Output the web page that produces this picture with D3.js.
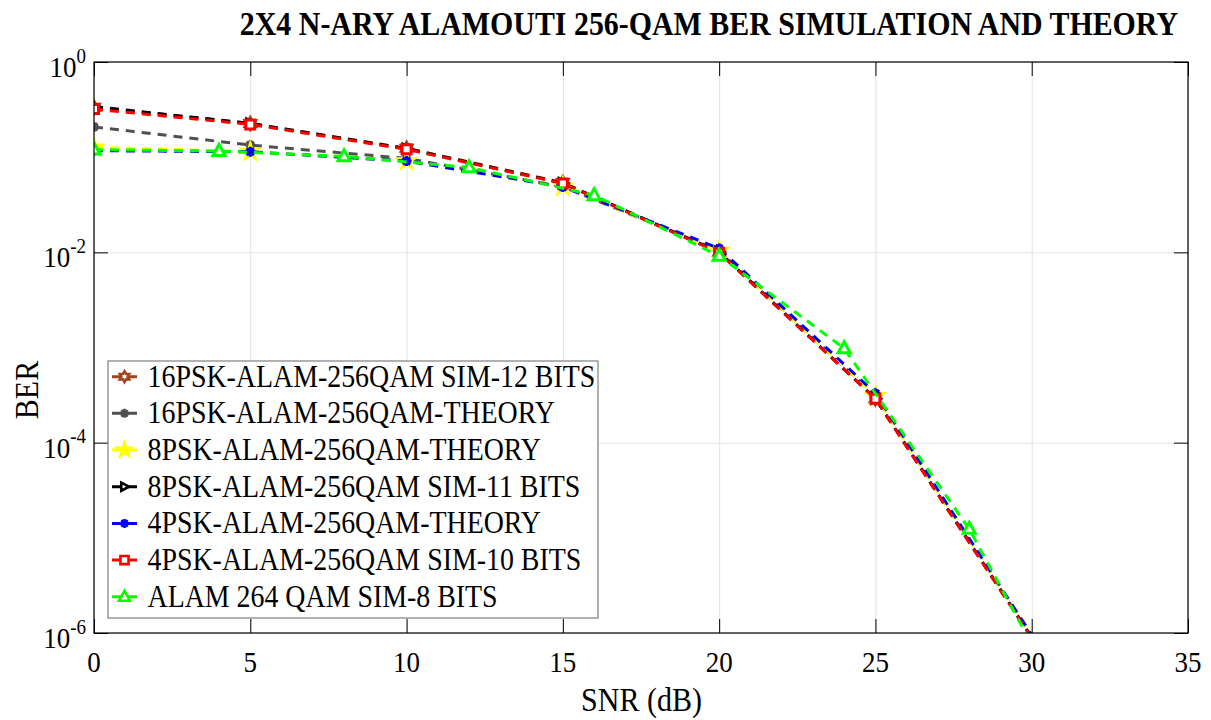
<!DOCTYPE html>
<html>
<head>
<meta charset="utf-8">
<script src="https://cdn.jsdelivr.net/npm/d3@7"></script>
<style>
  html, body { margin: 0; padding: 0; background: #fff; }
  text { font-family: "Liberation Serif", "Times New Roman", serif; fill: #000; }
</style>
</head>
<body>
<svg id="chart" width="1211" height="720"></svg>
<script>
// ---------------- data ----------------
const snr = [0, 5, 10, 15, 20, 25, 30];
const snrAlam = [0, 4, 8, 12, 16, 20, 24, 28, 32];

const sim16 = [0.335, 0.226, 0.124, 0.054, 0.0100, 2.9e-4, 9e-7];
const theory16 = [0.208, 0.134, 0.097, 0.049, 0.0104, 3.1e-4, 9.3e-7];
const theory8 = [0.127, 0.114, 0.091, 0.049, 0.0104, 3.1e-4, 9.3e-7];
const sim8 = [0.34, 0.226, 0.123, 0.0535, 0.0101, 2.9e-4, 9e-7];
const theory4 = [0.117, 0.114, 0.091, 0.0487, 0.0110, 3.3e-4, 9.5e-7];
const sim4 = [0.32, 0.221, 0.121, 0.053, 0.0099, 2.9e-4, 8.8e-7];
const alam = [0.120, 0.116, 0.102, 0.078, 0.0398, 0.0092, 9.8e-4, 1.24e-5, 4.7e-8];

const seriesNames = [
  "16PSK-ALAM-256QAM SIM-12 BITS",
  "16PSK-ALAM-256QAM-THEORY",
  "8PSK-ALAM-256QAM-THEORY",
  "8PSK-ALAM-256QAM SIM-11 BITS",
  "4PSK-ALAM-256QAM-THEORY",
  "4PSK-ALAM-256QAM SIM-10 BITS",
  "ALAM 264 QAM SIM-8 BITS"
];
const xTicks = [0, 5, 10, 15, 20, 25, 30, 35];
const yTicks = [1e-6, 1e-4, 1e-2, 1];
const yTickExp = ["-6", "-4", "-2", "0"];
const titleText = "2X4 N-ARY ALAMOUTI 256-QAM BER SIMULATION AND THEORY";
const xLabel = "SNR (dB)";
const yLabel = "BER";

// ---------------- styles ----------------
const series = [
  { name: seriesNames[0], xs: snr, ys: sim16, color: "#A2461E", marker: "hexagram" },
  { name: seriesNames[1], xs: snr, ys: theory16, color: "#505050", marker: "asterisk" },
  { name: seriesNames[2], xs: snr, ys: theory8, color: "#FFFF00", marker: "pentagram" },
  { name: seriesNames[3], xs: snr, ys: sim8, color: "#000000", marker: "triright" },
  { name: seriesNames[4], xs: snr, ys: theory4, color: "#0000FF", marker: "asterisk" },
  { name: seriesNames[5], xs: snr, ys: sim4, color: "#FF0000", marker: "square" },
  { name: seriesNames[6], xs: snrAlam, ys: alam, color: "#00FF00", marker: "triangle" }
];

const SY = 1.1; // vertical stretch of glyphs seen in the reference
const svg = d3.select("#chart");
const L = 94, R = 1188, T = 62, B = 633;
const x = d3.scaleLinear().domain([0, 35]).range([L, R]);
const y = d3.scaleLog().domain([1e-6, 1]).range([B, T]);

function stretchedText(parent, tx, ty, size, anchor, str, extra) {
  const t = parent.append("text")
    .attr("transform", `translate(${tx},${ty}) scale(1,${SY})${extra || ""}`)
    .attr("font-size", size).attr("text-anchor", anchor);
  if (str !== undefined) t.text(str);
  return t;
}

// grid
const grid = svg.append("g");
grid.append("g").attr("transform", `translate(0,${B})`)
  .call(d3.axisBottom(x).tickValues(xTicks).tickSize(-(B - T)).tickFormat(""))
  .call(g => g.select(".domain").remove())
  .call(g => g.selectAll("line").attr("stroke", "#e3e3e3").attr("stroke-width", 1));
grid.append("g").attr("transform", `translate(${L},0)`)
  .call(d3.axisLeft(y).tickValues(yTicks).tickSize(-(R - L)).tickFormat(""))
  .call(g => g.select(".domain").remove())
  .call(g => g.selectAll("line").attr("stroke", "#e3e3e3").attr("stroke-width", 1));

// clip
svg.append("clipPath").attr("id", "plotclip")
  .append("rect").attr("x", L).attr("y", T).attr("width", R - L).attr("height", B - T);

// marker shapes
function markerPath(type, s) {
  const p = d3.path();
  if (type === "square") {
    p.rect(-s / 2, -s / 2, s, s);
  } else if (type === "triangle") {
    p.moveTo(0, -s * 0.6); p.lineTo(s * 0.55, s * 0.4); p.lineTo(-s * 0.55, s * 0.4); p.closePath();
  } else if (type === "triright") {
    p.moveTo(s * 0.55, 0); p.lineTo(-s * 0.4, -s * 0.5); p.lineTo(-s * 0.4, s * 0.5); p.closePath();
  } else if (type === "asterisk") {
    const r = s / 2;
    for (let k = 0; k < 4; k++) {
      const a = k * Math.PI / 4;
      p.moveTo(-r * Math.cos(a), -r * Math.sin(a)); p.lineTo(r * Math.cos(a), r * Math.sin(a));
    }
  } else if (type === "pentagram") {
    const ro = s * 0.6, ri = ro * 0.382;
    for (let k = 0; k < 10; k++) {
      const a = -Math.PI / 2 + k * Math.PI / 5;
      const rr = k % 2 === 0 ? ro : ri;
      if (k === 0) p.moveTo(rr * Math.cos(a), rr * Math.sin(a)); else p.lineTo(rr * Math.cos(a), rr * Math.sin(a));
    }
    p.closePath();
  } else if (type === "hexagram") {
    const ro = s * 0.55, ri = ro * 0.577;
    for (let k = 0; k < 12; k++) {
      const a = -Math.PI / 2 + k * Math.PI / 6;
      const rr = k % 2 === 0 ? ro : ri;
      if (k === 0) p.moveTo(rr * Math.cos(a), rr * Math.sin(a)); else p.lineTo(rr * Math.cos(a), rr * Math.sin(a));
    }
    p.closePath();
  }
  return p.toString();
}
function markerFill(s) {
  if (s.marker === "pentagram") return s.color;
  if (s.marker === "asterisk") return "none";
  return "#fff";
}
const markerSize = { square: 9, triangle: 11, triright: 9, asterisk: 10, pentagram: 13, hexagram: 11 };

// data lines
const plot = svg.append("g").attr("clip-path", "url(#plotclip)");
const line = d3.line().x(d => x(d[0])).y(d => y(d[1]));
series.forEach(s => {
  const pts = s.xs.map((v, i) => [v, s.ys[i]]);
  const g = plot.append("g");
  g.append("path").attr("d", line(pts))
    .attr("fill", "none").attr("stroke", s.color).attr("stroke-width", 3)
    .attr("stroke-dasharray", "9,7");
  g.selectAll("path.m").data(pts.filter(d => d[1] >= 1e-6 && d[0] <= 35)).join("path")
    .attr("class", "m")
    .attr("transform", d => `translate(${x(d[0])},${y(d[1])})`)
    .attr("d", markerPath(s.marker, markerSize[s.marker]))
    .attr("fill", markerFill(s)).attr("stroke", s.color).attr("stroke-width", 3);
});

// axes (inward ticks, box)
const axes = svg.append("g");
axes.append("g").attr("transform", `translate(0,${B})`)
  .call(d3.axisBottom(x).tickValues(xTicks).tickSize(-14).tickFormat(""))
  .call(g => g.select(".domain").remove())
  .call(g => g.selectAll("line").attr("stroke", "#000"));
axes.append("g").attr("transform", `translate(0,${T})`)
  .call(d3.axisTop(x).tickValues(xTicks).tickSize(-14).tickFormat(""))
  .call(g => g.select(".domain").remove())
  .call(g => g.selectAll("line").attr("stroke", "#000"));
axes.append("g").attr("transform", `translate(${L},0)`)
  .call(d3.axisLeft(y).tickValues(yTicks).tickSize(-14).tickFormat(""))
  .call(g => g.select(".domain").remove())
  .call(g => g.selectAll("line").attr("stroke", "#000"));
axes.append("g").attr("transform", `translate(${R},0)`)
  .call(d3.axisRight(y).tickValues(yTicks).tickSize(-14).tickFormat(""))
  .call(g => g.select(".domain").remove())
  .call(g => g.selectAll("line").attr("stroke", "#000"));
axes.append("rect").attr("x", L).attr("y", T).attr("width", R - L).attr("height", B - T)
  .attr("fill", "none").attr("stroke", "#000").attr("stroke-width", 1.2);

// x tick labels
xTicks.forEach(v => stretchedText(axes, x(v), 672, 27, "middle", String(v)));

// y tick labels with superscripts
yTicks.forEach((v, i) => {
  const t = stretchedText(axes, 86, y(v) + 15, 27, "end");
  t.append("tspan").text("10");
  t.append("tspan").attr("font-size", 19).attr("dy", -13).text(yTickExp[i]);
});

// labels
stretchedText(svg, 641.5, 711, 30, "middle", xLabel);
svg.append("text").attr("transform", `translate(38,390) rotate(-90) scale(1,${SY})`)
  .attr("text-anchor", "middle").attr("font-size", 30).text(yLabel);
stretchedText(svg, 1178, 35, 29.9, "end", titleText).attr("font-weight", "bold");

// legend
const lg = svg.append("g");
lg.append("rect").attr("x", 108).attr("y", 361).attr("width", 490).attr("height", 257)
  .attr("fill", "#fff").attr("stroke", "#7f7f7f").attr("stroke-width", 1.2);
series.forEach((s, i) => {
  const cy = 376.7 + i * 36.67;
  lg.append("line").attr("x1", 112).attr("x2", 137).attr("y1", cy).attr("y2", cy)
    .attr("stroke", s.color).attr("stroke-width", 3).attr("stroke-dasharray", "9,7");
  lg.append("path").attr("transform", `translate(124.5,${cy})`)
    .attr("d", markerPath(s.marker, markerSize[s.marker] * 0.9))
    .attr("fill", markerFill(s)).attr("stroke", s.color).attr("stroke-width", 2.6);
  stretchedText(lg, 147.5, cy + 10, 27.9, "start", s.name);
});
</script>
</body>
</html>
